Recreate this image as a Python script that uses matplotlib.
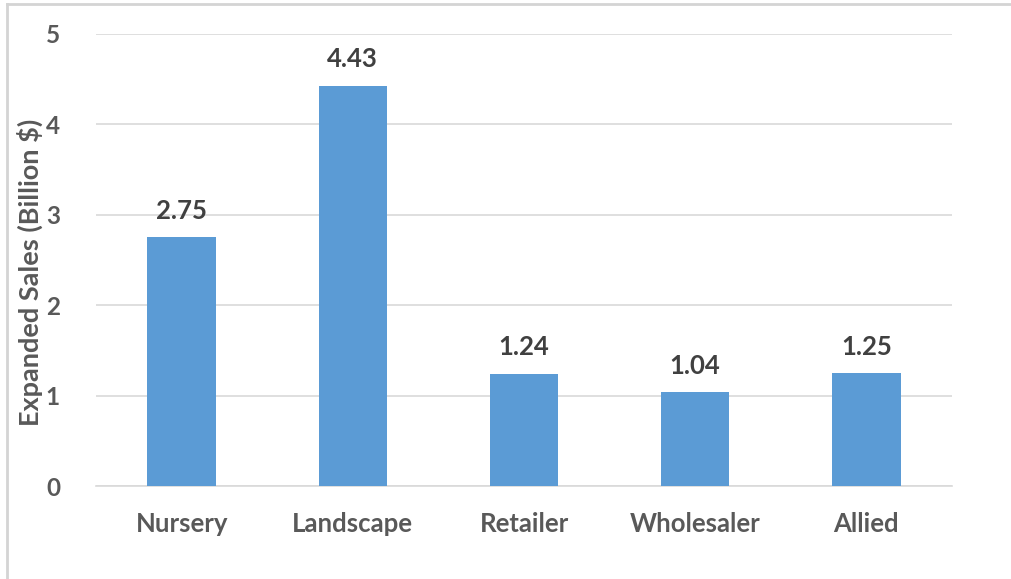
import matplotlib
matplotlib.use("Agg")
import matplotlib.pyplot as plt
from matplotlib.lines import Line2D

categories = ["Nursery", "Landscape", "Retailer", "Wholesaler", "Allied"]
values = [2.75, 4.43, 1.24, 1.04, 1.25]
yticks = [0, 1, 2, 3, 4, 5]
ylabel = "Expanded Sales (Billion $)"

plt.rcParams['font.family'] = ['Lato', 'DejaVu Sans']

fig = plt.figure(figsize=(10.11, 5.79), dpi=100)
ax = fig.add_axes([0.095, 0.1606, 0.8466, 0.7807])

x = range(len(categories))
bars = ax.bar(x, values, width=0.4, color="#5b9bd5", zorder=3)
for xi, v in zip(x, values):
    ax.text(xi, v + 0.16, f"{v:.2f}", ha="center", va="bottom",
            fontsize=18.5, fontweight="bold", color="#404040")

ax.set_xlim(-0.5, len(categories) - 0.5)
ax.set_ylim(0, 5)
ax.set_yticks(yticks)
ax.set_yticklabels([str(t) for t in yticks], fontsize=17.5, fontweight="bold", color="#595959")
ax.set_xticks(list(x))
ax.set_xticklabels(categories, fontsize=18.5, fontweight="bold", color="#595959")
ax.tick_params(axis="both", length=0)
ax.tick_params(axis="y", pad=26)
ax.tick_params(axis="x", pad=19)
ax.grid(axis="y", color="#d9d9d9", linewidth=1.2, zorder=0)
for s in ["top", "right", "left"]:
    ax.spines[s].set_visible(False)
ax.spines["bottom"].set_color("#d9d9d9")
ax.spines["bottom"].set_linewidth(1.2)
ax.set_ylabel(ylabel, fontsize=19.5, fontweight="bold", color="#595959")
ax.yaxis.set_label_coords(-0.0625, 0.473)

# screenshot border
fig.add_artist(Line2D([0.007, 1.0], [1 - 4/579, 1 - 4/579], transform=fig.transFigure,
                      color="#d4d4d4", linewidth=2))
fig.add_artist(Line2D([7/1011, 7/1011], [0, 1 - 4/579], transform=fig.transFigure,
                      color="#d4d4d4", linewidth=2))

fig.savefig("out.png", dpi=100)
